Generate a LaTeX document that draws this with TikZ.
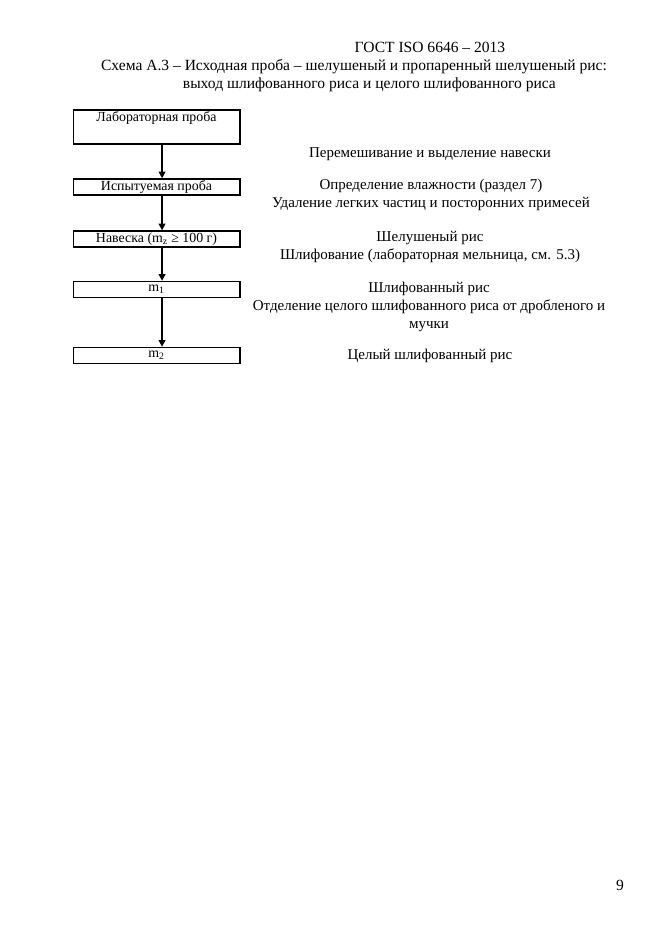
\documentclass[tikz,border=0pt]{standalone}
\usepackage{fontspec}
\setmainfont{Liberation Serif}
\usetikzlibrary{arrows.meta,positioning}

\begin{document}
\begin{tikzpicture}[x=0.9pt,y=-0.9pt,>={Triangle[length=6pt,width=6pt]},
 box/.style={draw,line width=1.2pt,minimum width=150pt,minimum height=14.5pt,inner sep=0pt,font=\fontsize{12.5}{15}\selectfont},
 txt/.style={font=\fontsize{13.5}{16.2}\selectfont,align=center},
 head/.style={font=\fontsize{14}{16}\selectfont},
 arr/.style={->,line width=1.5pt}]
\useasboundingbox (0,0) rectangle (661,935);
% header and caption
\node[head] (gost) at (430,47) {ГОСТ ISO 6646 – 2013};
\node[head] (cap1) at (354,67) {Схема А.3 – Исходная проба – шелушеный и пропаренный шелушеный рис:};
\node[head,anchor=west] (cap2) at (179,85) {выход шлифованного риса и целого шлифованного риса};
% boxes
\node[box,minimum height=30.5pt,align=center] (lab) at (156.5,127) {Лабораторная проба\\[-1pt]\strut};
\node[box] (isp) at (156.5,187) {Испытуемая проба};
\node[box] (nav) at (156.5,239) {Навеска (m\textsubscript{z} ≥ 100 г)};
\node[box] (m1) at (156.5,289.5) {m\textsubscript{1}};
\node[box] (m2) at (156.5,355.5) {m\textsubscript{2}};
\draw[arr] ([xshift=5pt]lab.south) -- ([xshift=5pt]isp.north);
\draw[arr] ([xshift=5pt]isp.south) -- ([xshift=5pt]nav.north);
\draw[arr] ([xshift=5pt]nav.south) -- ([xshift=5pt]m1.north);
\draw[arr] ([xshift=5pt]m1.south) -- ([xshift=5pt]m2.north);
% operations
\node[txt] (op1) at (430,154) {Перемешивание и выделение навески};
\node[txt] (op2) at (431,195) {Определение влажности (раздел 7)\\Удаление легких частиц и посторонних примесей};
\node[txt] (op3) at (430,247) {Шелушеный рис\\Шлифование (лабораторная мельница, см. 5.3)};
\node[txt] (op4) at (429,307) {Шлифованный рис\\Отделение целого шлифованного риса от дробленого и\\мучки};
\node[txt] (op5) at (430,356) {Целый шлифованный рис};
\node[head] (page) at (620,885) {9};
\end{tikzpicture}
\end{document}
